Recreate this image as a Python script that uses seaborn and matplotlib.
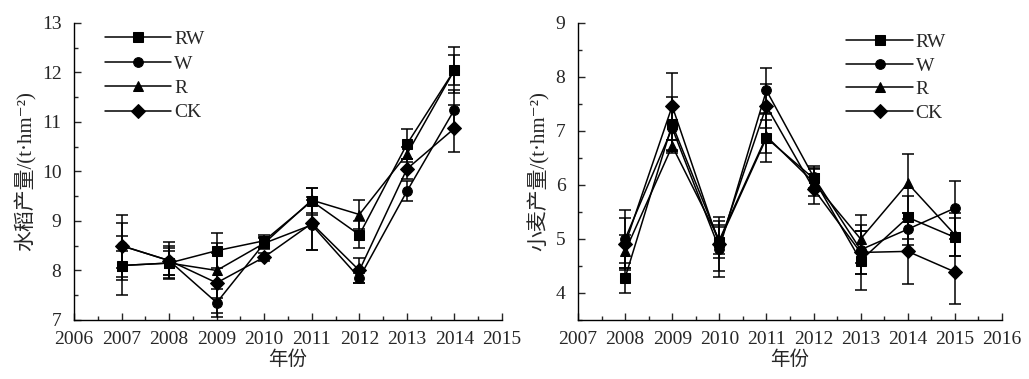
import numpy as np
import pandas as pd
import matplotlib
matplotlib.use("Agg")
import matplotlib.pyplot as plt
from matplotlib.ticker import MultipleLocator
import seaborn as sns

treatments = ["RW", "W", "R", "CK"]

rice_years = [2007, 2008, 2009, 2010, 2011, 2012, 2013, 2014]
rice_RW = [8.10, 8.15, 8.40, 8.60, 9.40, 8.72, 10.55, 12.05]
rice_W = [8.50, 8.20, 7.35, 8.55, 8.92, 7.85, 9.60, 11.25]
rice_R = [8.10, 8.15, 8.00, 8.55, 9.42, 9.13, 10.35, 12.05]
rice_CK = [8.50, 8.20, 7.75, 8.27, 8.95, 8.00, 10.05, 10.87]
rice_RW_err = [0.60, 0.25, 0.36, 0.12, 0.27, 0.27, 0.30, 0.47]
rice_W_err = [0.63, 0.38, 0.28, 0.12, 0.50, 0.10, 0.20, 0.40]
rice_R_err = [0.30, 0.30, 0.55, 0.10, 0.25, 0.30, 0.15, 0.30]
rice_CK_err = [0.45, 0.30, 0.60, 0.08, 0.53, 0.25, 0.20, 0.47]

wheat_years = [2008, 2009, 2010, 2011, 2012, 2013, 2014, 2015]
wheat_RW = [4.28, 7.12, 4.95, 6.87, 6.12, 4.60, 5.40, 5.03]
wheat_W = [5.00, 7.05, 4.82, 7.75, 6.15, 4.80, 5.18, 5.57]
wheat_R = [4.77, 6.72, 4.98, 6.90, 6.05, 5.00, 6.03, 5.08]
wheat_CK = [4.90, 7.46, 4.90, 7.46, 5.93, 4.75, 4.77, 4.39]
wheat_RW_err = [0.28, 0.50, 0.30, 0.45, 0.20, 0.55, 0.40, 0.35]
wheat_W_err = [0.53, 0.40, 0.52, 0.42, 0.20, 0.45, 0.30, 0.50]
wheat_R_err = [0.30, 0.12, 0.25, 0.30, 0.25, 0.45, 0.55, 0.40]
wheat_CK_err = [0.48, 0.62, 0.50, 0.40, 0.28, 0.40, 0.60, 0.60]

FONTS = ["Liberation Serif", "Noto Sans CJK SC", "DejaVu Serif"]

sns.set_style("ticks")
plt.rcParams["font.family"] = FONTS
plt.rcParams["axes.unicode_minus"] = False

markers = {"RW": "s", "W": "o", "R": "^", "CK": "D"}


def make_df(years, vals, errs):
    rows = []
    for t, v, e in zip(treatments, vals, errs):
        for y, a, b in zip(years, v, e):
            rows.append({"year": y, "value": a, "err": b, "trt": t})
    return pd.DataFrame(rows)


rice_df = make_df(rice_years, [rice_RW, rice_W, rice_R, rice_CK],
                  [rice_RW_err, rice_W_err, rice_R_err, rice_CK_err])
wheat_df = make_df(wheat_years, [wheat_RW, wheat_W, wheat_R, wheat_CK],
                   [wheat_RW_err, wheat_W_err, wheat_R_err, wheat_CK_err])

fig = plt.figure(figsize=(10.29, 3.79), dpi=100)
ax1 = fig.add_axes([0.0719, 0.1557, 0.416, 0.784])
ax2 = fig.add_axes([0.5617, 0.1557, 0.412, 0.784])


def draw(ax, df, xlim, ylim, ylabel, legend_anchor, spacing):
    for t in treatments:
        sub = df[df.trt == t]
        ax.errorbar(sub["year"], sub["value"], yerr=sub["err"], fmt="none",
                    ecolor="black", elinewidth=1.1, capsize=4, capthick=1.1, zorder=2)
    sns.lineplot(data=df, x="year", y="value", hue="trt", style="trt",
                 markers=markers, dashes=False, palette=["black"] * 4,
                 hue_order=treatments, style_order=treatments,
                 markeredgecolor="black", linewidth=1.1, markersize=7,
                 ax=ax, legend=True, zorder=3)
    ax.set_xlim(*xlim)
    ax.set_ylim(*ylim)
    ax.xaxis.set_major_locator(MultipleLocator(1))
    ax.xaxis.set_minor_locator(MultipleLocator(0.5))
    ax.yaxis.set_major_locator(MultipleLocator(1))
    ax.yaxis.set_minor_locator(MultipleLocator(0.5))
    ax.tick_params(which="both", direction="in", width=1.0, labelsize=14,
                   top=False, right=False)
    ax.tick_params(which="major", length=5)
    ax.tick_params(axis="y", which="major", pad=9)
    ax.tick_params(axis="x", which="major", pad=8)
    ax.tick_params(which="minor", length=3)
    for lab in ax.get_xticklabels() + ax.get_yticklabels():
        lab.set_fontfamily(FONTS)
    sns.despine(ax=ax)
    for s in ["left", "bottom"]:
        ax.spines[s].set_linewidth(1.0)
        ax.spines[s].set_color("black")
    ax.set_xlabel("年份", fontsize=14, labelpad=2)
    ax.set_ylabel(ylabel, fontsize=15, labelpad=4)
    leg = ax.legend(loc="upper left", bbox_to_anchor=legend_anchor, frameon=False,
                    fontsize=14, handlelength=3.4, handletextpad=0.15,
                    labelspacing=spacing, borderaxespad=0)
    for h in leg.legend_handles:
        h.set_color("black")
        h.set_linewidth(1.1)


draw(ax1, rice_df, (2006, 2015), (7, 13), "水稻产量/(t·hm⁻²)", (0.055, 1.0), 0.35)
draw(ax2, wheat_df, (2007, 2016), (3.5, 9), "小麦产量/(t·hm⁻²)", (0.615, 0.99), 0.3)

fig.savefig("out.png", dpi=100)
